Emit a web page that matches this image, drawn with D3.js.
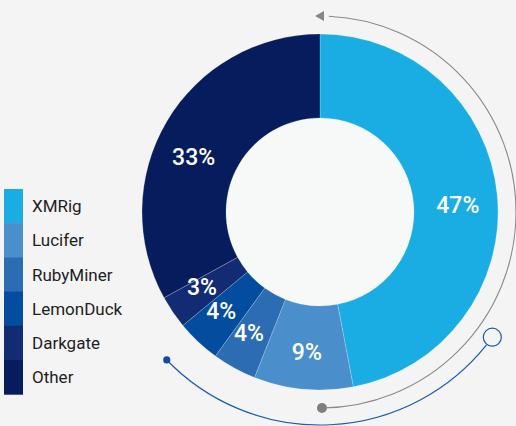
<!DOCTYPE html>
<html>
<head>
<meta charset="utf-8">
<script src="https://cdn.jsdelivr.net/npm/d3@7"></script>
<style>
  body { margin: 0; background: #f4f4f4; }
  svg { display: block; }
</style>
</head>
<body>
<div id="chart"></div>
<script>
"use strict";

const families = ["XMRig", "Lucifer", "RubyMiner", "LemonDuck", "Darkgate", "Other"];
const shares = [47, 9, 4, 4, 3, 33];
const colours = ["#19ade3", "#4a8fcc", "#2b6cb3", "#044c9d", "#132b72", "#061c5c"];

const width = 516,
  height = 426;
const cx = 320,
  cy = 212;
const outerR = 178,
  innerR = 94;

const svg = d3
  .select("#chart")
  .append("svg")
  .attr("width", width)
  .attr("height", height)
  .style("background", "#f4f4f4");

// legend
const legend = svg.append("g").attr("transform", "translate(4,189)");
const rowH = 34.2;
legend
  .selectAll("rect")
  .data(families)
  .enter()
  .append("rect")
  .attr("x", 0)
  .attr("y", (d, i) => i * rowH)
  .attr("width", 19)
  .attr("height", rowH + 0.5)
  .style("fill", (d, i) => colours[i]);

legend
  .selectAll("text")
  .data(families)
  .enter()
  .append("text")
  .attr("x", 28)
  .attr("y", (d, i) => i * rowH + rowH / 2 + 6)
  .style("font-family", "Roboto, sans-serif")
  .style("font-size", "17px")
  .style("fill", "#1e1e1e")
  .text((d) => d);

const g = svg.append("g").attr("transform", "translate(" + cx + "," + cy + ")");

// decorative arcs
const grayR = 196;
g.append("path")
  .attr("d", d3.arc().innerRadius(grayR).outerRadius(grayR).startAngle(0.045).endAngle(Math.PI - 0.01)())
  .style("fill", "none")
  .style("stroke", "#8a8a8c")
  .style("stroke-width", 1.1);

// arrow head at top pointing left
g.append("path")
  .attr("d", "M-5," + (-grayR) + " L4," + (-grayR - 5) + " L4," + (-grayR + 5) + " Z")
  .style("fill", "#86868a");

// gray dot bottom
g.append("circle")
  .attr("cx", grayR * Math.sin(Math.PI - 0.01))
  .attr("cy", -grayR * Math.cos(Math.PI - 0.01))
  .attr("r", 5)
  .style("fill", "#7f7f83");

const blueR = 213;
const blueStart = (126 * Math.PI) / 180,
  blueEnd = (226 * Math.PI) / 180;
g.append("path")
  .attr("d", d3.arc().innerRadius(blueR).outerRadius(blueR).startAngle(blueStart + 0.045).endAngle(blueEnd)())
  .style("fill", "none")
  .style("stroke", "#1c5cb0")
  .style("stroke-width", 1.2);

g.append("circle")
  .attr("cx", blueR * Math.sin(blueStart))
  .attr("cy", -blueR * Math.cos(blueStart))
  .attr("r", 9)
  .style("fill", "#f4f4f4")
  .style("stroke", "#1c5cb0")
  .style("stroke-width", 1.2);

g.append("circle")
  .attr("cx", blueR * Math.sin(blueEnd))
  .attr("cy", -blueR * Math.cos(blueEnd))
  .attr("r", 3.6)
  .style("fill", "#0d4fa6");

// donut
const pie = d3.pie().sort(null).value((d) => d);
const arcs = pie(shares);
const arc = d3.arc().innerRadius(innerR).outerRadius(outerR);

g.append("circle").attr("r", innerR).style("fill", "#f7f8f8");

g.selectAll("path.slice")
  .data(arcs)
  .enter()
  .append("path")
  .attr("class", "slice")
  .attr("d", arc)
  .style("fill", (d, i) => colours[i])
  .style("stroke", "rgba(255,255,255,0.35)")
  .style("stroke-width", 0.6);

g.selectAll("text.pct")
  .data(arcs)
  .enter()
  .append("text")
  .attr("class", "pct")
  .attr("transform", (d) => {
    // labels are not exactly on the mid angle in the original
    let mid = (d.startAngle + d.endAngle) / 2;
    if (d.data > 40) mid += 0.04;
    else if (d.data > 30) mid -= 0.12;
    else if (d.data < 9) mid += 0.03;
    const r = d.data > 30 ? 138 : 140;
    return "translate(" + r * Math.sin(mid) + "," + -r * Math.cos(mid) + ")";
  })
  .attr("text-anchor", "middle")
  .attr("dy", "0.36em")
  .style("font-family", "Roboto, sans-serif")
  .style("font-size", "23px")
  .style("font-weight", 500)
  .style("fill", "#fff")
  .text((d) => d.data + "%");
</script>
</body>
</html>
